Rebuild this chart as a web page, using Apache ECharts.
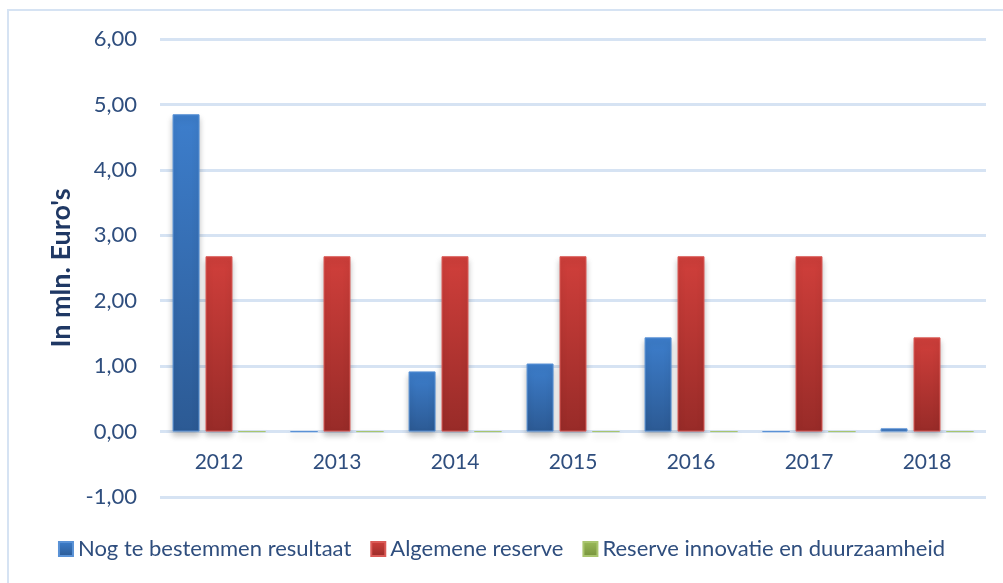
<!DOCTYPE html>
<html>
<head>
<meta charset="utf-8">
<script src="https://cdn.jsdelivr.net/npm/echarts@6/dist/echarts.min.js"></script>
<style>
  html, body { margin: 0; padding: 0; background: #fff; }
  #main { width: 1003px; height: 583px; }
  #frame { position: absolute; left: 7px; top: 9px; width: 1000px; height: 580px;
           border-left: 2px solid #D6E3F3; border-top: 2px solid #D6E3F3; pointer-events: none; }
</style>
</head>
<body>
<div id="main"></div>
<div id="frame"></div>
<script>
// jaren
var jaren = ['2012', '2013', '2014', '2015', '2016', '2017', '2018'];
// waarden in mln. euro
var nogTeBestemmen = [4.85, 0, 0.92, 1.04, 1.44, 0, 0.05];
var algemeneReserve = [2.68, 2.68, 2.68, 2.68, 2.68, 2.68, 1.44];
var reserveInnovatie = [0, 0, 0, 0, 0, 0, 0];

var tekstKleur = '#2F4E7E';
var fontNaam = 'Lato, "Open Sans", sans-serif';

function verloop(boven, onder) {
	return new echarts.graphic.LinearGradient(0, 0, 0, 1, [
		{ offset: 0, color: boven },
		{ offset: 1, color: onder }
	]);
}

function balkStijl(boven, onder, rand) {
	return {
		color: verloop(boven, onder),
		borderColor: rand,
		borderWidth: 1,
		shadowColor: 'rgba(0,0,0,0.25)',
		shadowBlur: 6,
		shadowOffsetY: 4
	};
}

var grafiek = echarts.init(document.getElementById('main'));

grafiek.setOption({
	animation: false,
	textStyle: { fontFamily: fontNaam },
	grid: {
		left: 160,
		right: 17,
		top: 39,
		bottom: 86
	},
	legend: {
		top: 533,
		left: 'center',
		itemWidth: 14,
		itemHeight: 14,
		itemGap: 19,
		icon: 'rect',
		textStyle: { color: tekstKleur, fontSize: 22, fontFamily: fontNaam },
		data: ['Nog te bestemmen resultaat', 'Algemene reserve', 'Reserve innovatie en duurzaamheid']
	},
	xAxis: {
		type: 'category',
		data: jaren,
		axisLine: { show: false },
		axisTick: { show: false },
		// labels staan bij de nullijn, niet onder -1
		axisLabel: { color: tekstKleur, fontSize: 21, margin: -45, fontFamily: fontNaam }
	},
	yAxis: {
		type: 'value',
		min: -1,
		max: 6,
		interval: 1,
		name: "In mln. Euro's",
		nameLocation: 'middle',
		nameGap: 85,
		nameTextStyle: { color: '#1F3864', fontSize: 27, fontWeight: 'bold', fontFamily: fontNaam },
		axisLine: { show: false },
		axisTick: { show: false },
		axisLabel: {
			color: tekstKleur,
			fontSize: 22,
			margin: 23,
			fontFamily: fontNaam,
			formatter: function (v) { return v.toFixed(2).replace('.', ','); }
		},
		splitLine: { lineStyle: { color: '#D6E3F3', width: 3 } }
	},
	series: [{
		name: 'Nog te bestemmen resultaat',
		type: 'bar',
		barWidth: 27,
		barGap: '22%',
		data: nogTeBestemmen,
		itemStyle: balkStijl('#3D7ECC', '#2C5A94', '#5A92D6')
	}, {
		name: 'Algemene reserve',
		type: 'bar',
		barWidth: 27,
		barGap: '22%',
		data: algemeneReserve,
		itemStyle: balkStijl('#D03F3B', '#982B28', '#DA5A56')
	}, {
		name: 'Reserve innovatie en duurzaamheid',
		type: 'bar',
		barWidth: 27,
		barGap: '22%',
		data: reserveInnovatie,
		itemStyle: balkStijl('#9BBB59', '#76923C', '#A9C56E')
	}]
});
</script>
</body>
</html>
